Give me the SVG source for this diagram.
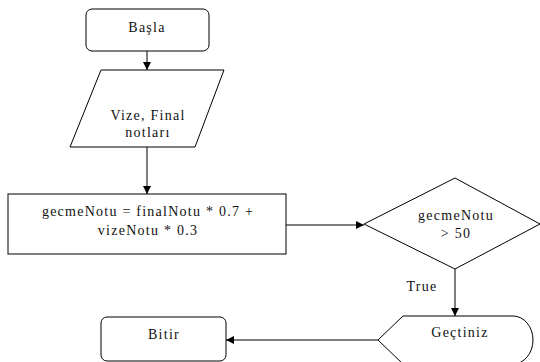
<svg xmlns="http://www.w3.org/2000/svg" width="540" height="362" viewBox="0 0 540 362">
<defs>
<marker id="arr" viewBox="0 0 10 10" refX="10" refY="5" markerWidth="8" markerHeight="8" markerUnits="userSpaceOnUse" orient="auto">
<path d="M0,0 L10,5 L0,10 z" fill="#000"/>
</marker>
<style>
.shape{fill:#fff;stroke:#000;stroke-width:1}
.t{font-family:"Liberation Serif","Times New Roman",serif;font-size:14px;font-weight:normal;fill:#111;text-anchor:middle;letter-spacing:1.25px}
.edge{fill:none;stroke:#000;stroke-width:1;marker-end:url(#arr)}
</style>
</defs>
<rect width="540" height="362" fill="#fff"/>
<g id="connectors">
<line class="edge" x1="147" y1="51" x2="147" y2="70"/>
<line class="edge" x1="147" y1="147" x2="147" y2="194"/>
<line class="edge" x1="286" y1="225" x2="364" y2="225"/>
<line class="edge" x1="455" y1="269" x2="455" y2="316"/>
<line class="edge" x1="378" y1="340" x2="226" y2="340"/>
<text class="t" x="422" y="291">True</text>
</g>
<g id="basla">
<rect class="shape" x="86" y="9" width="123" height="42" rx="6"/>
<text class="t" x="147" y="32">Başla</text>
</g>
<g id="input">
<polygon class="shape" points="101,70 224,70 195,147 70,147"/>
<text class="t" x="148" y="120">Vize, Final</text>
<text class="t" x="148" y="137">notları</text>
</g>
<g id="process">
<rect class="shape" x="8" y="194" width="278" height="60"/>
<text class="t" x="148" y="216">gecmeNotu = finalNotu * 0.7 +</text>
<text class="t" x="148" y="235">vizeNotu * 0.3</text>
</g>
<g id="decision">
<polygon class="shape" points="455,178 540,224 455,269 364,224"/>
<text class="t" x="456" y="220">gecmeNotu</text>
<text class="t" x="456" y="238">&gt; 50</text>
</g>
<g id="gectiniz">
<path class="shape" d="M378,340 L403,316 L513,316 A20,24 0 0 1 513,364 L403,364 Z"/>
<text class="t" x="460" y="337">Geçtiniz</text>
</g>
<g id="bitir">
<rect class="shape" x="101" y="317" width="125" height="44" rx="6"/>
<text class="t" x="164" y="339">Bitir</text>
</g>
</svg>
